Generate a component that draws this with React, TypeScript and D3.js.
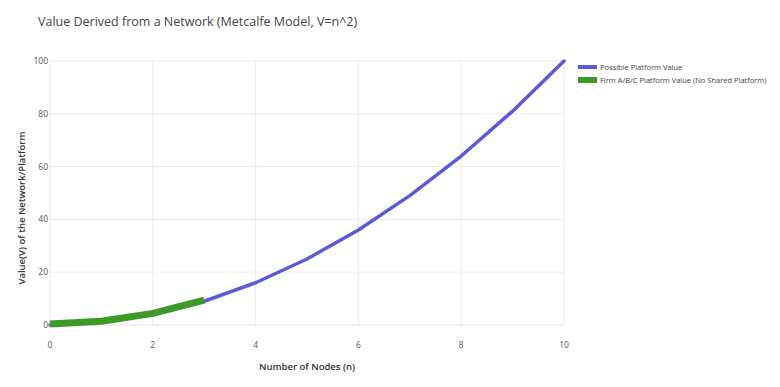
import React from "react";
import * as d3 from "d3";

const nodes = [0, 1, 2, 3, 4, 5, 6, 7, 8, 9, 10];
const possibleValues = [0, 1, 4, 9, 16, 25, 36, 49, 64, 81, 100];
const firmNodes = [0, 1, 2, 3];
const firmValues = [0, 1, 4, 9];
const xTicks = [0, 2, 4, 6, 8, 10];
const yTicks = [0, 20, 40, 60, 80, 100];
const seriesNames = ["Possible Platform Value", "Firm A/B/C Platform Value (No Shared Platform)"];
const seriesColors = ["#5a5adb", "#3e9a27"];

export default function App() {
  const W = 780, H = 387;
  const x = d3.scaleLinear().domain([0, 10]).range([50, 564]);
  const y = d3.scaleLinear().domain([0, 100]).range([325, 61]);
  const line = d3.line<[number, number]>().x(d => x(d[0])).y(d => y(d[1])).curve(d3.curveLinear);
  const blue = line(nodes.map((n, i) => [n, possibleValues[i]]))!;
  const green = line(firmNodes.map((n, i) => [n, firmValues[i] + 0.4]))!;
  const font = "'Open Sans', 'Noto Sans', sans-serif";
  return (
    <svg width={W} height={H} style={{ position: "absolute", left: 0, top: 0, background: "#fff" }} fontFamily={font}>
      <rect width={W} height={H} fill="#fff" />
      {xTicks.map(t => (
        <line key={"gx" + t} x1={x(t)} x2={x(t)} y1={y(100)} y2={y(0)} stroke="#ececec" strokeWidth={1} />
      ))}
      {yTicks.map(t => (
        <line key={"gy" + t} x1={x(0)} x2={x(10)} y1={y(t)} y2={y(t)} stroke={t === 0 ? "#e2e2e2" : "#ececec"} strokeWidth={1} />
      ))}
      {xTicks.map(t => (
        <text key={"tx" + t} x={x(t)} y={348} fontSize={8.5} fill="#555" textAnchor="middle">{t}</text>
      ))}
      {yTicks.map(t => (
        <text key={"ty" + t} x={x(0) - 2} y={y(t) + 3} fontSize={8.5} fill="#555" textAnchor="end">{t}</text>
      ))}
      <path d={blue} fill="none" stroke={seriesColors[0]} strokeWidth={3.5} strokeLinejoin="round" strokeLinecap="round" />
      <path d={green} fill="none" stroke={seriesColors[1]} strokeWidth={7} strokeLinejoin="round" />
      <text x={38} y={26} fontSize={12.5} fill="#444">Value Derived from a Network (Metcalfe Model, V=n^2)</text>
      <text x={307} y={370} fontSize={9.5} fontWeight={600} fill="#333" textAnchor="middle">Number of Nodes (n)</text>
      <text transform={`translate(25,208) rotate(-90)`} fontSize={9.5} fontWeight={600} fill="#333" textAnchor="middle">Value(V) of the Network/Platform</text>
      {seriesNames.map((name, i) => (
        <g key={name}>
          <line x1={578} x2={597} y1={67 + i * 13} y2={67 + i * 13} stroke={seriesColors[i]} strokeWidth={i === 0 ? 4 : 6} />
          <text x={600} y={70 + i * 13} fontSize={7.5} fill="#444">{name}</text>
        </g>
      ))}
    </svg>
  );
}
